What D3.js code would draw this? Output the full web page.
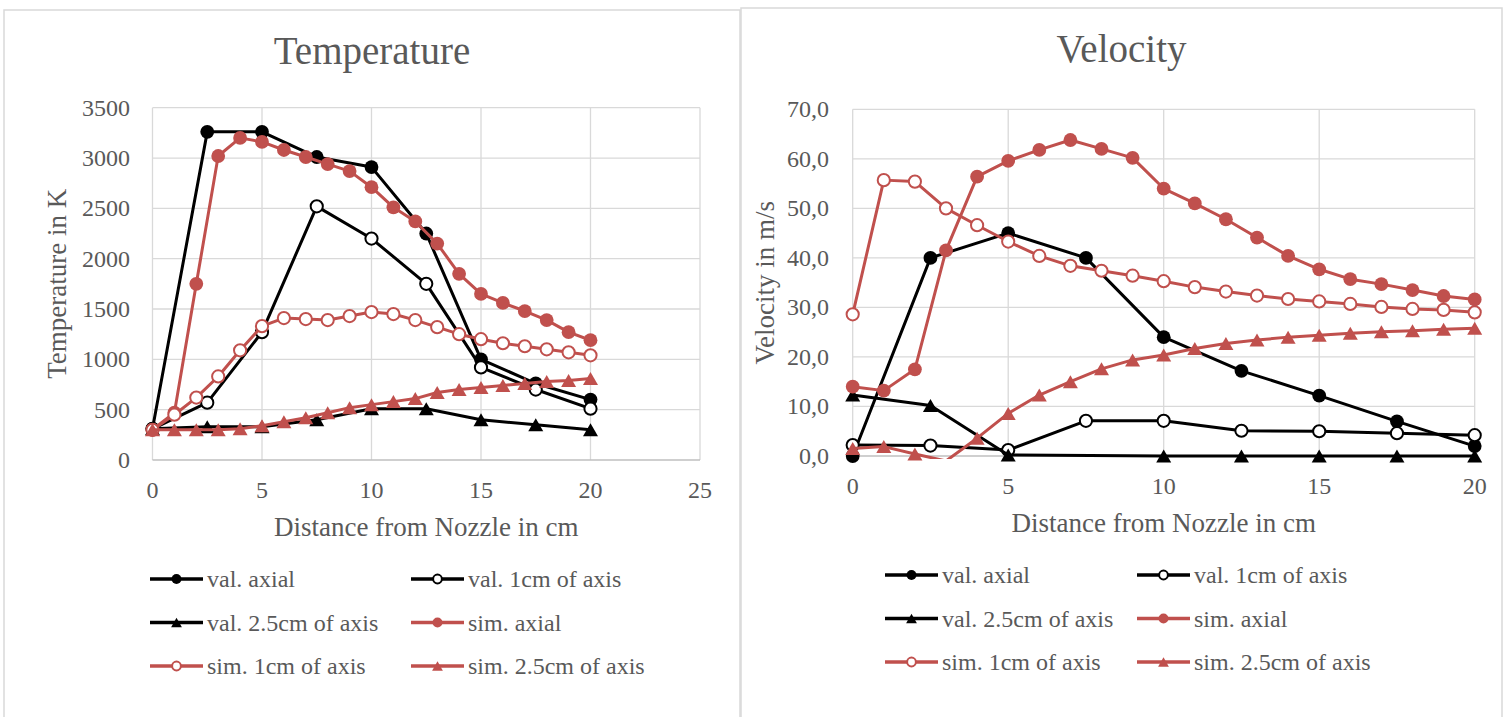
<!DOCTYPE html>
<html>
<head>
<meta charset="utf-8">
<script src="https://cdn.jsdelivr.net/npm/d3@7"></script>
<style>
  body { margin: 0; background: #fff; }
  text { font-family: "Liberation Serif", "DejaVu Serif", serif; fill: #595959; }
</style>
</head>
<body>
<svg id="chart" width="1506" height="717"></svg>
<script>
// x positions of the measurements
var valX = [0, 2.5, 5, 7.5, 10, 12.5, 15, 17.5, 20];
var simX = [0, 1, 2, 3, 4, 5, 6, 7, 8, 9, 10, 11, 12, 13, 14, 15, 16, 17, 18, 19, 20];

var seriesNames = ["val. axial", "val. 1cm of axis", "val. 2.5cm of axis",
                   "sim. axial", "sim. 1cm of axis", "sim. 2.5cm of axis"];

// Temperature in K
var tempValAxial = [310, 3260, 3260, 3010, 2910, 2250, 1000, 760, 600];
var tempVal1cm   = [310, 570, 1270, 2520, 2200, 1750, 920, 700, 510];
var tempVal25cm  = [310, 330, 330, 400, 510, 510, 400, 350, 300];
var tempSimAxial = [300, 470, 1750, 3020, 3200, 3160, 3080, 3010, 2940, 2870, 2710,
                    2510, 2370, 2150, 1850, 1650, 1560, 1480, 1390, 1270, 1190];
var tempSim1cm   = [300, 450, 620, 830, 1090, 1330, 1410, 1400, 1390, 1430, 1470,
                    1450, 1390, 1320, 1250, 1200, 1160, 1130, 1100, 1070, 1040];
var tempSim25cm  = [300, 300, 300, 300, 310, 340, 380, 420, 470, 520, 550,
                    580, 610, 670, 700, 720, 740, 760, 780, 790, 810];

// Velocity in m/s (null = no measurement)
var velValAxial = [0, 40, 45, 40, 24, 17.2, 12.2, 7, 2];
var velVal1cm   = [2.2, 2.1, 1.2, 7.1, 7.1, 5.1, 5.0, 4.6, 4.2];
var velVal25cm  = [12.3, 10.2, 0.2, null, 0, 0, 0, 0, 0];
var velSimAxial = [14, 13.2, 17.5, 41.5, 56.4, 59.6, 61.8, 63.8, 62.0, 60.2, 54.0,
                   51.0, 47.8, 44.1, 40.4, 37.7, 35.7, 34.7, 33.5, 32.3, 31.6];
var velSim1cm   = [28.6, 55.7, 55.4, 50.0, 46.6, 43.3, 40.4, 38.4, 37.4, 36.4, 35.3,
                   34.1, 33.2, 32.4, 31.7, 31.2, 30.7, 30.1, 29.7, 29.5, 29.0];
var velSim25cm  = [1.5, 1.9, 0.4, -1.0, 3.6, 8.6, 12.3, 15.0, 17.6, 19.4, 20.4,
                   21.7, 22.7, 23.4, 24.0, 24.4, 24.8, 25.1, 25.3, 25.6, 25.8];

var tempXTicks = [0, 5, 10, 15, 20, 25];
var tempYTicks = [0, 500, 1000, 1500, 2000, 2500, 3000, 3500];
var velXTicks = [0, 5, 10, 15, 20];
var velYTicks = [0, 10, 20, 30, 40, 50, 60, 70];

var red = "#c0504d";
var styles = [
  { color: "#000", marker: "dot" },
  { color: "#000", marker: "ring" },
  { color: "#000", marker: "tri" },
  { color: red, marker: "dot" },
  { color: red, marker: "ring" },
  { color: red, marker: "tri" }
];

var commaFormat = d3.formatLocale({ decimal: ",", thousands: ".", grouping: [3], currency: ["", ""] }).format(".1f");

var svg = d3.select("#chart");

var drawMarker = function(g, type, color, x, y, s) {
  if (type == "dot") {
    g.append("circle").attr("cx", x).attr("cy", y).attr("r", 6.9 * s).attr("fill", color);
  } else if (type == "ring") {
    g.append("circle").attr("cx", x).attr("cy", y).attr("r", 6.1 * s)
      .attr("fill", "#fff").attr("stroke", color).attr("stroke-width", 2);
  } else {
    var w = 7.5 * s, h = 6.5 * s;
    g.append("path")
      .attr("d", "M" + x + "," + (y - h) + "L" + (x + w) + "," + (y + h) + "L" + (x - w) + "," + (y + h) + "Z")
      .attr("fill", color);
  }
};

var drawChart = function(cfg) {
  var panel = svg.append("g");

  // chart border
  panel.append("rect")
    .attr("x", cfg.box[0]).attr("y", cfg.box[1])
    .attr("width", cfg.box[2]).attr("height", cfg.box[3])
    .attr("fill", "#fff").attr("stroke", "#d9d9d9").attr("stroke-width", 1.5);

  var xScale = d3.scaleLinear().domain(cfg.xDomain).range([cfg.plot.left, cfg.plot.right]);
  var yScale = d3.scaleLinear().domain(cfg.yDomain).range([cfg.plot.bottom, cfg.plot.top]);

  // gridlines
  panel.append("g").selectAll("line").data(cfg.yTicks.slice(1)).enter().append("line")
    .attr("x1", cfg.plot.left).attr("x2", cfg.plot.right)
    .attr("y1", d => yScale(d)).attr("y2", d => yScale(d))
    .attr("stroke", "#d9d9d9").attr("stroke-width", 1.3);
  panel.append("g").selectAll("line").data(cfg.xTicks).enter().append("line")
    .attr("x1", d => xScale(d)).attr("x2", d => xScale(d))
    .attr("y1", cfg.plot.top).attr("y2", cfg.plot.bottom)
    .attr("stroke", "#d9d9d9").attr("stroke-width", 1.3);
  panel.append("line")
    .attr("x1", cfg.plot.left).attr("x2", cfg.plot.right)
    .attr("y1", cfg.plot.bottom).attr("y2", cfg.plot.bottom)
    .attr("stroke", "#bfbfbf").attr("stroke-width", 1.3);

  // tick labels
  panel.append("g").selectAll("text").data(cfg.yTicks).enter().append("text")
    .attr("x", cfg.yLabelX).attr("y", d => yScale(d) + 8)
    .attr("text-anchor", "end").attr("font-size", "24px")
    .text(cfg.yFormat);
  panel.append("g").selectAll("text").data(cfg.xTicks).enter().append("text")
    .attr("x", d => xScale(d)).attr("y", cfg.plot.bottom + 38)
    .attr("text-anchor", "middle").attr("font-size", "24px")
    .text(d => d);

  // titles
  panel.append("text")
    .attr("x", cfg.box[0] + cfg.box[2] / 2).attr("y", cfg.titleY)
    .attr("text-anchor", "middle").attr("font-size", "39px")
    .text(cfg.title);
  panel.append("text")
    .attr("x", (cfg.plot.left + cfg.plot.right) / 2).attr("y", cfg.plot.bottom + 76)
    .attr("text-anchor", "middle").attr("font-size", "27px")
    .text("Distance from Nozzle in cm");
  panel.append("text")
    .attr("transform", "translate(" + cfg.yTitleX + "," + ((cfg.plot.top + cfg.plot.bottom) / 2) + ") rotate(-90)")
    .attr("text-anchor", "middle").attr("font-size", "27px")
    .text(cfg.yTitle);

  // clip lines to the plot area
  var clipId = "clip-" + cfg.id;
  svg.append("clipPath").attr("id", clipId).append("rect")
    .attr("x", cfg.plot.left - 10).attr("y", cfg.plot.top - 10)
    .attr("width", cfg.plot.right - cfg.plot.left + 20)
    .attr("height", cfg.plot.bottom - cfg.plot.top + 13);

  var line = d3.line().x(d => xScale(d[0])).y(d => yScale(d[1]));

  cfg.series.forEach(function(values, i) {
    var xs = i < 3 ? valX : simX;
    var pts = xs.map((x, j) => [x, values[j]]).filter(d => d[1] !== null);
    var st = styles[i];
    var g = panel.append("g");
    g.append("path").datum(pts)
      .attr("clip-path", "url(#" + clipId + ")")
      .attr("d", line).attr("fill", "none")
      .attr("stroke", st.color).attr("stroke-width", 3).attr("stroke-linejoin", "round");
    pts.filter(d => d[1] >= cfg.yDomain[0]).forEach(function(d) {
      drawMarker(g, st.marker, st.color, xScale(d[0]), yScale(d[1]), 1);
    });
  });

  // legend
  var leg = panel.append("g");
  seriesNames.forEach(function(name, i) {
    var col = i % 2, row = Math.floor(i / 2);
    var x0 = cfg.legendX[col], y0 = cfg.legendY + row * 43.5;
    var st = styles[i];
    leg.append("line").attr("x1", x0).attr("x2", x0 + 53).attr("y1", y0).attr("y2", y0)
      .attr("stroke", st.color).attr("stroke-width", 3.3);
    drawMarker(leg, st.marker, st.color, x0 + 26.5, y0, 0.72);
    leg.append("text").attr("x", x0 + 57).attr("y", y0 + 8)
      .attr("font-size", "24px").text(name);
  });
};

drawChart({
  id: "temp",
  box: [4, 10, 736, 720],
  title: "Temperature",
  titleY: 64,
  plot: { left: 152.5, right: 700, top: 107.7, bottom: 460 },
  xDomain: [0, 25], yDomain: [0, 3500],
  xTicks: tempXTicks, yTicks: tempYTicks,
  yFormat: d => d,
  yLabelX: 130,
  yTitle: "Temperature in K", yTitleX: 66,
  series: [tempValAxial, tempVal1cm, tempVal25cm, tempSimAxial, tempSim1cm, tempSim25cm],
  legendX: [150, 411], legendY: 579
});

drawChart({
  id: "vel",
  box: [741, 8, 761, 720],
  title: "Velocity",
  titleY: 62,
  plot: { left: 852.7, right: 1474.7, top: 109.3, bottom: 456 },
  xDomain: [0, 20], yDomain: [0, 70],
  xTicks: velXTicks, yTicks: velYTicks,
  yFormat: commaFormat,
  yLabelX: 829,
  yTitle: "Velocity in m/s", yTitleX: 774,
  series: [velValAxial, velVal1cm, velVal25cm, velSimAxial, velSim1cm, velSim25cm],
  legendX: [885, 1137], legendY: 575
});
</script>
</body>
</html>
